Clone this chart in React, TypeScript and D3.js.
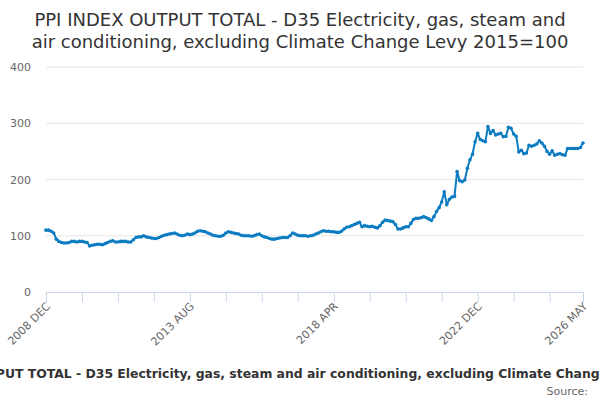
import React from "react";
import * as d3 from "d3";

const titleLines = [
  "PPI INDEX OUTPUT TOTAL - D35 Electricity, gas, steam and",
  "air conditioning, excluding Climate Change Levy 2015=100",
];
const seriesName =
  "PPI INDEX OUTPUT TOTAL - D35 Electricity, gas, steam and air conditioning, excluding Climate Change Levy 2015=100";

// monthly, 2008 DEC .. 2026 MAY
const values: number[] = [
  110, 110, 108, 105, 94, 90, 88, 87, 87, 88,
  90, 90, 89, 90, 90, 89, 88, 82, 83, 84,
  85, 85, 84, 86, 88, 90, 91, 89, 89, 90,
  90, 90, 89, 89, 93, 97, 98, 98, 100, 98,
  97, 96, 95, 95, 97, 99, 101, 102, 103, 104,
  105, 103, 101, 100, 101, 103, 102, 103, 105, 108,
  109, 108, 107, 105, 103, 101, 100, 99, 99, 101,
  105, 107, 106, 105, 104, 103, 101, 100, 100, 100,
  99, 100, 102, 103, 100, 98, 97, 95, 94, 94,
  95, 96, 97, 97, 97, 100, 105, 103, 101, 100,
  100, 100, 99, 100, 101, 103, 105, 107, 109, 108,
  108, 107, 107, 106, 106, 108, 112, 115, 116, 118,
  120, 122, 124, 116, 118, 117, 116, 117, 115, 114,
  118, 124, 128, 127, 126, 125, 120, 112, 112, 114,
  116, 116, 122, 129, 131, 131, 132, 134, 132, 130,
  127, 134, 143, 150, 160, 178, 155, 165, 169, 170,
  214, 198, 196, 199, 220, 235, 245, 267, 282, 271,
  269, 267, 294, 282, 287, 279, 281, 282, 276, 277,
  293, 291, 281, 277, 249, 252, 246, 247, 261, 259,
  261, 263, 269, 265, 259, 250, 245, 251, 243, 245,
  246, 244, 243, 255, 255, 255, 255, 255, 257, 265,
];

const fmt = d3.timeFormat("%Y %b");
const categories: string[] = d3
  .timeMonth.range(new Date(2008, 11, 1), new Date(2026, 5, 1))
  .map((d) => fmt(d).toUpperCase());

const tickLabels = ["2008 DEC", "2013 AUG", "2018 APR", "2022 DEC", "2026 MAY"];
const tickCategories = categories.filter((_, i) => i % 14 === 0 || i === categories.length - 1);
const yTicks = [0, 100, 200, 300, 400];

const width = 600;
const height = 400;
const plotLeft = 46;
const plotRight = 583;
const plotTop = 67;
const plotBottom = 292;
const lineColor = "#0b7cc2";
const font = "DejaVu Sans, sans-serif";

const x = d3.scalePoint<string>().domain(categories).range([plotLeft, plotRight]);
const y = d3.scaleLinear().domain([0, 400]).range([plotBottom, plotTop]);

const line = d3
  .line<number>()
  .x((_, i) => x(categories[i]) as number)
  .y((d) => y(d));

const App = () => {
  return (
    <svg
      width={width}
      height={height}
      style={{ position: "absolute", left: 0, top: 0, background: "#fff" }}
      fontFamily={font}
    >
      {titleLines.map((t, i) => (
        <text key={i} x={width / 2} y={26 + i * 22} textAnchor="middle" fontSize={18} fill="#333">
          {t}
        </text>
      ))}

      {yTicks.map((t) => (
        <g key={t}>
          {t > 0 && (
            <line x1={plotLeft} x2={plotRight} y1={y(t)} y2={y(t)} stroke="#e6e6e6" strokeWidth={1} />
          )}
          <text x={31} y={y(t) + 4} textAnchor="end" fontSize={11} fill="#666">
            {t}
          </text>
        </g>
      ))}

      <line x1={plotLeft} x2={plotRight + 1} y1={plotBottom + 0.5} y2={plotBottom + 0.5} stroke="#ccd6eb" />
      {tickCategories.map((c) => (
        <line
          key={c}
          x1={(x(c) as number) + 0.5}
          x2={(x(c) as number) + 0.5}
          y1={plotBottom}
          y2={plotBottom + 10}
          stroke="#ccd6eb"
        />
      ))}
      {tickLabels.map((c) => (
        <text
          key={c}
          transform={`translate(${(x(c) as number) + 5},${plotBottom + 15}) rotate(-45)`}
          textAnchor="end"
          fontSize={11}
          fill="#666"
        >
          {c}
        </text>
      ))}

      <path d={line(values) || ""} fill="none" stroke={lineColor} strokeWidth={2} strokeLinejoin="round" />
      {values.map((v, i) => (
        <circle key={i} cx={x(categories[i])} cy={y(v)} r={1.8} fill={lineColor} />
      ))}

      {/* legend item: text sits right of the (clipped) line symbol */}
      <text x={width / 2 + 6} y={378} textAnchor="middle" fontSize={12.4} fontWeight="bold" fill="#333">
        {seriesName}
      </text>
      <text x={588} y={395} textAnchor="end" fontSize={11} fill="#666">
        Source:
      </text>
    </svg>
  );
};

export default App;
